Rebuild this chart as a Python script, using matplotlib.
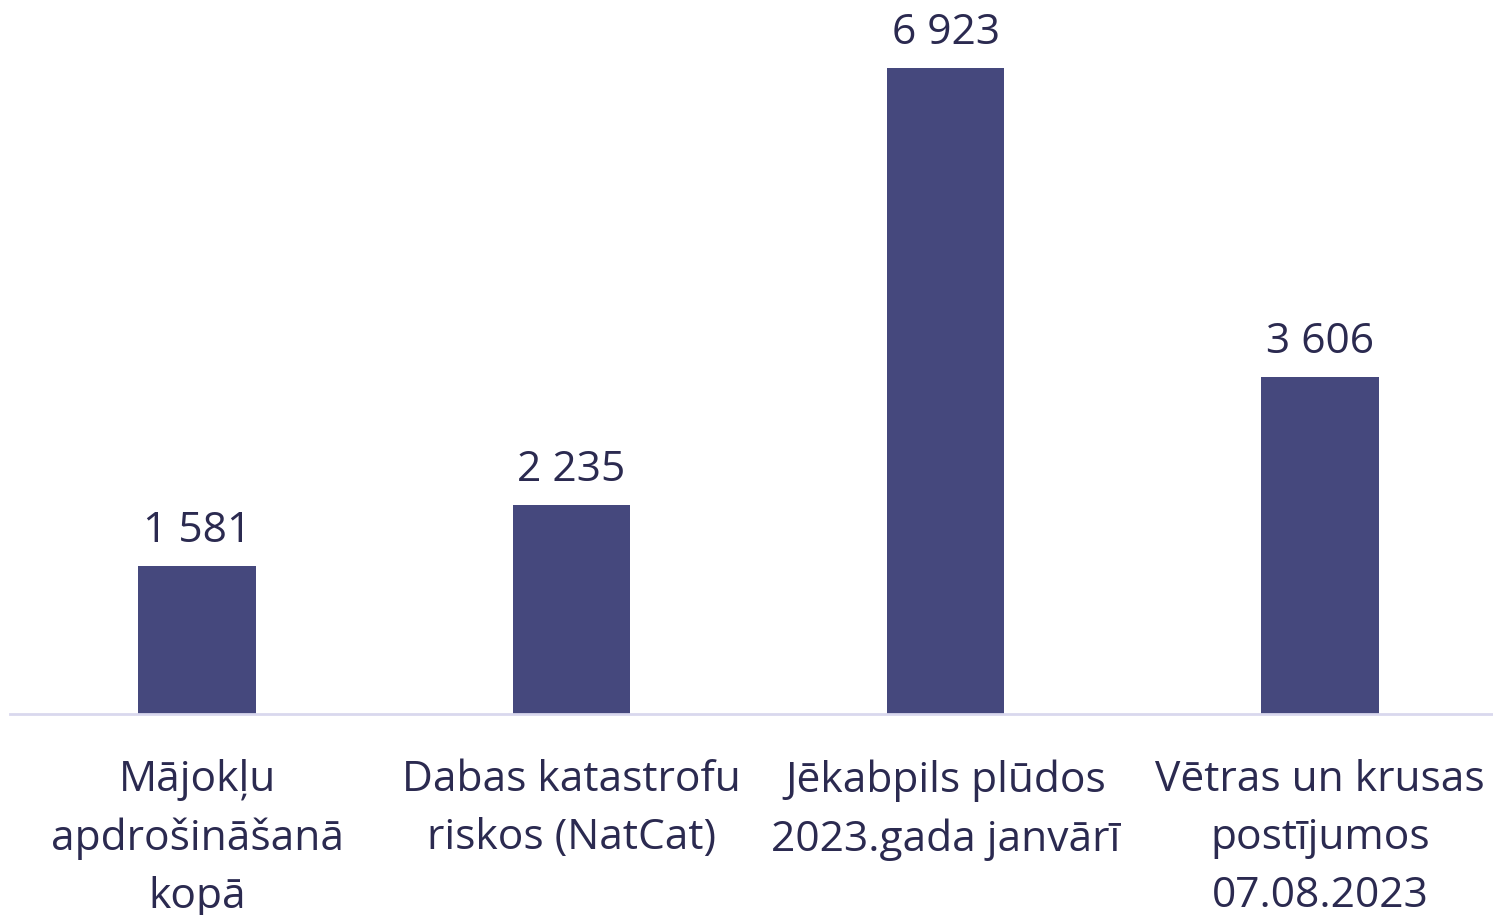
import matplotlib.pyplot as plt
import numpy as np

plt.rcParams['font.family'] = ['Open Sans', 'DejaVu Sans']

categories = ['Mājokļu\napdrošināšanā\nkopā',
              'Dabas katastrofu\nriskos (NatCat)',
              'Jēkabpils plūdos\n2023.gada janvārī',
              'Vētras un krusas\npostījumos\n07.08.2023']
values = [1581, 2235, 6923, 3606]
value_labels = ['1 581', '2 235', '6 923', '3 606']

bar_color = '#45487d'
text_color = '#2b2a50'
fs = 30.6

fig = plt.figure(figsize=(14.93, 9.15), dpi=100)
ax = fig.add_axes([10 / 1493, (915 - 713.5) / 915, 1 - 10 / 1493, 713.5 / 915])

x = np.arange(len(categories))
bars = ax.bar(x, values, width=0.313, color=bar_color, zorder=2)

for xi, v, lab in zip(x, values, value_labels):
    ax.annotate(lab, (xi, v), xytext=(0, 10), textcoords='offset points',
                ha='center', va='bottom', fontsize=fs, color=text_color)

ax.set_xlim(-0.4996, 3.462)
ax.set_ylim(0, 7652)
ax.set_xticks(x)
ax.set_xticklabels(categories, fontsize=fs, color=text_color, linespacing=1.5)
ax.tick_params(axis='x', length=0, pad=33)
ax.set_yticks([])
for s in ['top', 'right', 'left']:
    ax.spines[s].set_visible(False)
ax.spines['bottom'].set_color('#d9d8ee')
ax.spines['bottom'].set_linewidth(2)

fig.savefig('out.png', dpi=100)
